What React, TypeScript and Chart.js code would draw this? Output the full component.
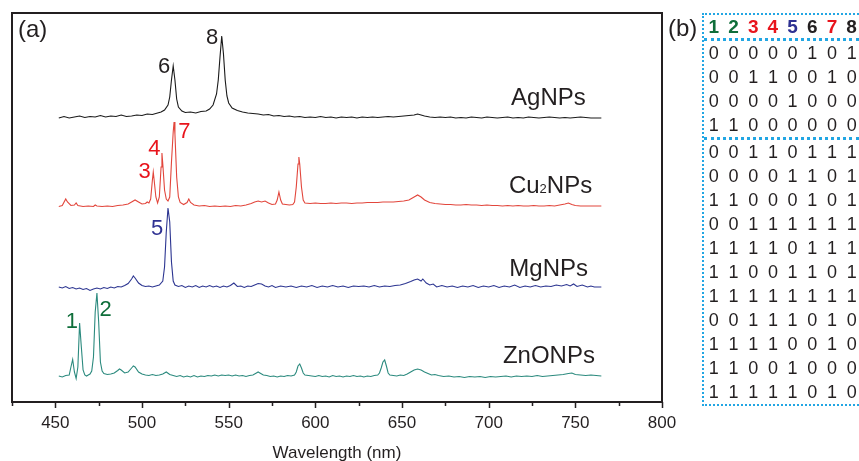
import React, { useEffect, useRef } from "react";
import { Chart, registerables } from "chart.js";

Chart.register(...registerables);

const FONT = "'Liberation Sans', Arial, Helvetica, sans-serif";
const INK = "#231f20";
const RED = "#e8141c";
const GREEN = "#0f6e3a";
const NAVY = "#2e3192";

// [wavelength nm, intensity a.u. (offset stacked)]
const agSpectrum: [number, number][] = [
  [452, 284], [455, 285.5], [458, 284], [461, 285], [464, 286], [467, 284.5], [470, 285.5], [473, 285],
  [476, 286.5], [479, 285], [482, 286], [485, 285.5], [488, 287], [491, 285.5], [494, 286], [497, 287],
  [500, 286.5], [503, 288], [506, 287.5], [509, 289], [511, 290], [513, 292], [515, 297], [516, 305],
  [517, 322], [518, 336], [519, 322], [520, 303], [521, 295], [523, 291], [525, 289.5], [528, 290],
  [531, 289], [534, 290.5], [537, 291], [539, 293], [541, 297], [543, 308], [544, 322], [545, 345],
  [546, 366], [547, 348], [548, 322], [549, 306], [550, 299], [552, 294], [555, 291.5], [558, 290],
  [561, 289], [564, 288.5], [567, 288], [570, 287], [573, 287.5], [576, 286], [579, 286.5], [582, 285.5],
  [585, 286], [588, 285], [591, 285.5], [594, 284.5], [597, 285], [600, 284.5], [603, 285.5], [606, 284.5],
  [609, 285], [612, 284], [615, 285], [618, 284.5], [621, 285], [624, 284], [627, 285], [630, 284.5],
  [633, 285], [636, 284.5], [639, 285], [642, 285.5], [645, 285], [648, 285.5], [651, 286], [654, 286.5],
  [657, 287], [659, 288], [661, 287], [663, 286], [666, 285], [669, 284.5], [672, 285], [675, 284.5],
  [678, 285], [681, 284], [684, 284.5], [687, 284], [690, 285], [693, 284.5], [696, 284], [699, 285],
  [702, 284.5], [705, 284], [708, 284.5], [711, 285], [714, 284], [717, 284.5], [720, 284], [723, 285],
  [726, 284.5], [729, 284], [732, 284.5], [735, 285], [738, 284.5], [741, 284], [744, 284.5], [747, 284],
  [750, 284.5], [753, 285], [756, 284.5], [759, 284], [762, 284], [765, 284],
];

const cuSpectrum: [number, number][] = [
  [452, 195.5], [454, 196.5], [456, 203], [457, 200], [459, 196.5], [461, 197], [462, 199], [463, 196.5],
  [466, 195.5], [469, 196], [472, 195.5], [473, 197], [474, 196], [477, 195.5], [480, 196], [483, 195.5],
  [486, 196.5], [489, 197], [492, 198], [494, 200], [496, 202], [498, 200], [500, 198], [502, 198.5],
  [503, 200], [504, 199], [505, 203], [506, 222], [506.5, 230], [507, 222], [508, 205], [509, 199],
  [510, 205], [511, 235], [511.5, 249], [512, 238], [513, 212], [514, 203], [515, 201], [516, 205],
  [517, 240], [518, 270], [518.5, 280], [519, 268], [520, 225], [521, 205], [522, 199.5], [524, 197.5],
  [526, 199.5], [527, 203], [528, 199.5], [530, 197], [533, 196], [536, 196.5], [539, 195.5], [542, 196],
  [545, 195.5], [548, 196], [551, 195.5], [554, 196.5], [557, 196], [560, 197], [563, 198.5], [565, 200],
  [567, 201], [569, 200], [571, 201], [573, 199], [575, 197.5], [577, 198], [578, 202], [579, 210],
  [580, 202], [581, 198], [583, 197.5], [585, 197], [587, 197.5], [588, 200], [589, 215], [590, 238],
  [590.5, 245], [591, 238], [592, 215], [593, 202], [594, 199], [597, 198.5], [600, 199], [603, 198.5],
  [606, 198.5], [609, 199], [612, 198.5], [615, 199], [618, 199], [621, 198.5], [624, 199], [627, 199],
  [630, 199.5], [633, 199.5], [636, 199.5], [639, 200], [642, 200], [645, 200], [648, 200.5], [651, 201],
  [654, 202], [657, 205], [659, 207], [661, 205], [663, 202], [666, 199.5], [669, 198.5], [672, 198],
  [675, 197.5], [678, 197.5], [681, 197], [684, 197], [687, 197.5], [690, 197], [693, 197], [696, 196.5],
  [699, 197], [702, 196.5], [705, 196.5], [708, 196], [711, 196.5], [714, 196], [717, 196.5], [720, 196],
  [723, 196], [726, 196.5], [729, 196], [732, 196], [735, 196.5], [738, 196], [741, 197], [744, 198],
  [746, 199], [748, 197.5], [750, 196.5], [753, 196], [756, 196], [759, 196], [762, 196], [765, 196],
];

const mgSpectrum: [number, number][] = [
  [452, 115], [454, 114], [456, 115.5], [458, 113.5], [460, 114.5], [462, 113], [464, 114], [466, 112.5],
  [468, 113.5], [470, 111.5], [472, 113], [474, 114], [476, 113], [478, 114.5], [480, 113.5], [482, 115],
  [484, 114], [486, 115.5], [488, 115], [490, 116.5], [492, 118.5], [494, 123], [495, 126], [496, 124],
  [498, 119], [500, 116.5], [502, 115.5], [504, 116], [506, 115], [508, 116], [510, 117], [512, 121],
  [513, 135], [514, 170], [515, 194], [516, 180], [517, 140], [518, 121], [519, 117], [521, 115.5],
  [523, 116.5], [525, 114.5], [527, 116], [529, 115], [531, 116.5], [533, 114.5], [535, 116], [537, 115],
  [539, 116.5], [541, 115], [543, 116], [545, 114.5], [547, 116], [549, 115], [551, 116.5], [553, 119],
  [555, 115.5], [557, 116], [559, 114.5], [561, 116], [563, 115.5], [565, 117], [567, 118.5], [569, 118],
  [571, 116], [573, 115], [575, 116.5], [577, 114.5], [580, 116], [583, 115], [586, 116], [589, 114.5],
  [592, 116], [595, 115], [598, 116.5], [601, 114.5], [604, 116], [607, 115], [610, 116.5], [613, 115],
  [616, 116], [619, 114.5], [622, 116], [625, 115.5], [628, 116], [631, 115], [634, 116.5], [637, 115],
  [640, 116], [643, 115.5], [646, 116.5], [649, 117], [652, 118.5], [655, 120.5], [657, 122], [659, 123],
  [661, 121], [662, 123], [664, 119], [666, 117], [668, 118], [670, 115], [673, 116.5], [676, 115],
  [679, 116], [682, 114.5], [685, 116], [688, 115], [691, 116.5], [694, 114.5], [697, 116], [700, 115],
  [703, 116.5], [706, 114.5], [709, 116], [712, 115], [715, 117], [718, 114.5], [721, 116], [724, 115],
  [727, 116.5], [730, 115], [733, 116], [736, 115.5], [739, 117], [742, 116], [745, 117.5], [747, 116],
  [749, 118], [751, 115.5], [754, 117], [757, 115], [759, 116], [761, 115], [763, 115], [765, 115],
];

const znSpectrum: [number, number][] = [
  [452, 26], [454, 25], [456, 26.5], [458, 27], [459, 35], [460, 42.5], [461, 30], [462, 23.5],
  [463, 35], [464, 79], [465, 55], [466, 32], [467, 27], [468, 26], [469, 27], [470, 28],
  [471, 31], [472, 45], [473, 90], [474, 109], [475, 80], [476, 40], [477, 31], [478, 28.5],
  [480, 27.5], [482, 28], [484, 29], [486, 31.5], [487, 33], [488, 32], [490, 29], [492, 30],
  [494, 34], [495, 36], [496, 35], [498, 30], [500, 28], [502, 27], [504, 26.5], [506, 27.5],
  [508, 26.5], [510, 27], [512, 28], [514, 30], [516, 27.5], [518, 26.5], [520, 25.5], [522, 26.5],
  [524, 25], [526, 26], [528, 25], [530, 26.5], [532, 25], [534, 26], [536, 25.5], [538, 26.5],
  [540, 26], [542, 27], [544, 26], [546, 27], [548, 26.5], [550, 27], [552, 26], [554, 27],
  [556, 26], [558, 26.5], [560, 25.5], [562, 26.5], [564, 27], [566, 29], [567, 30], [568, 29],
  [570, 27], [572, 26.5], [574, 25.5], [576, 26], [578, 25], [580, 26], [582, 25.5], [584, 26.5],
  [586, 26], [588, 27], [589, 30], [590, 36], [591, 38], [592, 34], [593, 29], [594, 27],
  [596, 26.5], [598, 26], [600, 25.5], [602, 26.5], [604, 25.5], [606, 26], [608, 25], [610, 26.5],
  [612, 25.5], [614, 26], [616, 25], [618, 26], [620, 25.5], [622, 26.5], [624, 25.5], [626, 26],
  [628, 25], [630, 26], [632, 25.5], [634, 26.5], [636, 27], [637, 29], [638, 34], [639, 40],
  [640, 42], [641, 36], [642, 29], [643, 27], [645, 26.5], [647, 26], [649, 27], [651, 26.5],
  [653, 28], [655, 30], [657, 32], [659, 33], [661, 32], [663, 30], [665, 28.5], [667, 27],
  [669, 27.5], [671, 26.5], [674, 25.5], [677, 26], [680, 25], [683, 25.5], [686, 24.5], [689, 25.5],
  [692, 25], [695, 25.5], [698, 24.5], [701, 25.5], [704, 25], [707, 25.5], [710, 26], [713, 25],
  [716, 26], [719, 25.5], [722, 26], [725, 25.5], [728, 26.5], [731, 25.5], [734, 26], [737, 26.5],
  [740, 27], [743, 27.5], [746, 28.5], [748, 29], [750, 27.5], [753, 27], [756, 26.5], [759, 27],
  [762, 26.5], [765, 26],
];

const seriesNames = ["AgNPs", "Cu2NPs", "MgNPs", "ZnONPs"];
const seriesColors = ["#1a1a1a", "#e2463c", "#2c3591", "#2b8a7e"];
// label anchor: right end (nm) and baseline (a.u.)
const seriesLabelWl = [756, 759.7, 757.3, 761.3];
const seriesLabelVal = [297, 208.7, 126, 38.7];

const peakTexts = ["6", "8", "3", "4", "7", "5", "1", "2"];
const peakWl = [512.7, 540.4, 501.5, 507.2, 524.5, 508.7, 459.6, 479];
const peakVal = [336, 365, 231.5, 254, 271.5, 174.5, 81.5, 93];
const peakColors = [INK, INK, RED, RED, RED, NAVY, GREEN, GREEN];

const xMin = 425;
const xMax = 800;
const xMajorTicks = [450, 500, 550, 600, 650, 700, 750, 800];
const xMinorTicks = [425, 475, 525, 575, 625, 675, 725, 775];

const tableHeader = ["1", "2", "3", "4", "5", "6", "7", "8"];
const tableHeaderColors = [GREEN, GREEN, RED, RED, NAVY, INK, RED, INK];
const tableGroupA = [
  "00000101",
  "00110010",
  "00001000",
  "11000000",
];
const tableGroupB = [
  "00110111",
  "00001101",
  "11000101",
  "00111111",
  "11110111",
  "11001101",
  "11111111",
  "00111010",
  "11110010",
  "11001000",
  "11111010",
];

const spectra = [agSpectrum, cuSpectrum, mgSpectrum, znSpectrum];

const decorPlugin = {
  id: "decor",
  afterDraw(chart: any) {
    const { ctx, chartArea } = chart;
    const xs = chart.scales.x;
    const ys = chart.scales.y;
    ctx.save();
    // frame
    ctx.strokeStyle = INK;
    ctx.lineWidth = 2;
    ctx.strokeRect(chartArea.left, chartArea.top, chartArea.right - chartArea.left, chartArea.bottom - chartArea.top);
    // ticks
    ctx.lineWidth = 1.5;
    ctx.beginPath();
    xMajorTicks.forEach((v) => {
      const px = Math.round(xs.getPixelForValue(v)) + 0.5;
      ctx.moveTo(px, chartArea.bottom);
      ctx.lineTo(px, chartArea.bottom + 6);
    });
    xMinorTicks.forEach((v) => {
      const px = Math.round(xs.getPixelForValue(v)) + 0.5;
      ctx.moveTo(px, chartArea.bottom);
      ctx.lineTo(px, chartArea.bottom + 4);
    });
    ctx.stroke();
    // axis title
    ctx.fillStyle = INK;
    ctx.font = `17px ${FONT}`;
    ctx.textAlign = "center";
    ctx.textBaseline = "middle";
    ctx.fillText("Wavelength (nm)", (chartArea.left + chartArea.right) / 2, 453);
    // panel letters
    ctx.font = `24px ${FONT}`;
    ctx.textAlign = "left";
    ctx.textBaseline = "alphabetic";
    ctx.fillText("(a)", 18, 37);
    ctx.fillText("(b)", 668, 36);
    // peak numbers
    ctx.font = `22px ${FONT}`;
    ctx.textAlign = "center";
    ctx.textBaseline = "middle";
    peakTexts.forEach((t, i) => {
      ctx.fillStyle = peakColors[i];
      ctx.fillText(t, xs.getPixelForValue(peakWl[i]), ys.getPixelForValue(peakVal[i]) + 1);
    });
    // series names (digits as subscripts), right-aligned
    ctx.fillStyle = INK;
    ctx.textBaseline = "alphabetic";
    ctx.textAlign = "left";
    seriesNames.forEach((name, i) => {
      const parts = name.split(/(\d+)/).filter((p) => p.length);
      const fontFor = (p: string) => (/^\d+$/.test(p) ? `13px ${FONT}` : `24px ${FONT}`);
      let total = 0;
      parts.forEach((p) => {
        ctx.font = fontFor(p);
        total += ctx.measureText(p).width;
      });
      let x = xs.getPixelForValue(seriesLabelWl[i]) - total;
      const y = ys.getPixelForValue(seriesLabelVal[i]);
      parts.forEach((p) => {
        ctx.font = fontFor(p);
        ctx.fillText(p, x, y);
        x += ctx.measureText(p).width;
      });
    });
    ctx.restore();
  },
};

function Table() {
  const cell: React.CSSProperties = { width: 19.7, textAlign: "center", flex: "0 0 auto" };
  const dotted = "2px dotted #22a6e3";
  const row = (bits: string, key: number) => (
    <div key={key} style={{ display: "flex", height: 24, lineHeight: "24px" }}>
      {bits.split("").map((b, j) => (
        <span key={j} style={cell}>{b}</span>
      ))}
    </div>
  );
  return (
    <div
      style={{
        position: "absolute",
        left: 702,
        top: 13,
        width: 157,
        borderTop: dotted,
        borderLeft: dotted,
        borderBottom: dotted,
        fontFamily: FONT,
        fontSize: 18,
        color: INK,
        boxSizing: "border-box",
      }}
    >
      <div style={{ display: "flex", height: 23, lineHeight: "24px", fontWeight: "bold", fontSize: 19, borderBottom: "3px dotted #22a6e3" }}>
        {tableHeader.map((h, j) => (
          <span key={j} style={{ ...cell, color: tableHeaderColors[j] }}>{h}</span>
        ))}
      </div>
      <div style={{ borderBottom: "3px dotted #22a6e3" }}>{tableGroupA.map((r, i) => row(r, i))}</div>
      <div>{tableGroupB.map((r, i) => row(r, i))}</div>
    </div>
  );
}

export default function App() {
  const canvasRef = useRef<HTMLCanvasElement | null>(null);
  useEffect(() => {
    if (!canvasRef.current) return;
    const chart = new Chart(canvasRef.current, {
      type: "line",
      data: {
        datasets: spectra.map((s, i) => ({
          label: seriesNames[i],
          data: s.map(([x, y]) => ({ x, y })),
          borderColor: seriesColors[i],
          borderWidth: 1.1,
          pointRadius: 0,
          tension: 0,
          fill: false,
        })),
      },
      options: {
        responsive: false,
        animation: false,
        devicePixelRatio: 1,
        layout: { padding: { left: 12, right: 197, top: 13, bottom: 0 } },
        plugins: { legend: { display: false }, tooltip: { enabled: false } },
        scales: {
          x: {
            type: "linear",
            min: xMin,
            max: xMax,
            grid: { display: false, drawTicks: false },
            border: { display: false },
            ticks: {
              stepSize: 25,
              autoSkip: false,
              maxRotation: 0,
              padding: 11,
              color: INK,
              font: { family: FONT, size: 17 },
              callback: (v: any) => (xMajorTicks.includes(Number(v)) ? String(v) : ""),
            },
            afterFit: (scale: any) => {
              scale.height = 59;
            },
          },
          y: { type: "linear", min: 0, max: 389, display: false },
        },
      },
      plugins: [decorPlugin],
    });
    return () => chart.destroy();
  }, []);
  return (
    <div style={{ position: "absolute", left: 0, top: 0, width: 859, height: 461, background: "#fff" }}>
      <canvas ref={canvasRef} width={859} height={461} style={{ width: 859, height: 461 }} />
      <Table />
    </div>
  );
}
